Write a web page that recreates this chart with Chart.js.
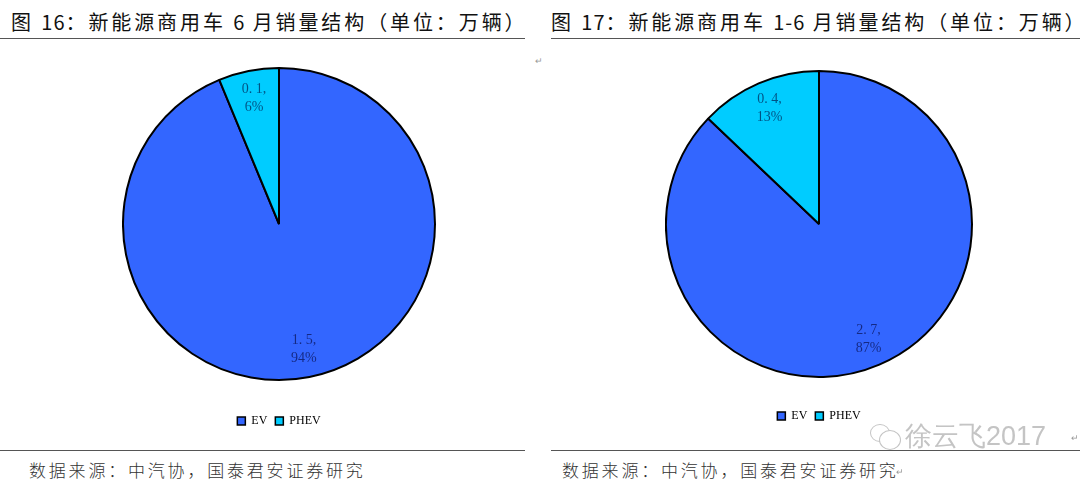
<!DOCTYPE html>
<html>
<head>
<meta charset="utf-8">
<script src="https://cdn.jsdelivr.net/npm/chart.js@4"></script>
<style>
  html, body { margin: 0; padding: 0; background: #fff; }
  #page { position: relative; width: 1080px; height: 484px; overflow: hidden; }
  .title { position: absolute; top: 8px; font: 20px/28px "Noto Sans CJK SC"; letter-spacing: 2.9px; color: #111; white-space: pre; }
  .title span { letter-spacing: 1px; }
  .rule { position: absolute; height: 1px; background: #555; }
  .source { position: absolute; top: 458px; font: 17px/24px "Noto Sans CJK SC"; font-weight: 300; letter-spacing: 2.8px; color: #333; white-space: pre; }
  .chart { position: absolute; top: 38px; height: 406px; }
  #mark { position: absolute; left: 905px; top: 419px; font: 27px/34px "Liberation Sans"; color: #c4c4c4; }
  .bubble { position: absolute; border: 1px solid #c4c4c4; border-radius: 50%; background: #fff; }
  .enter { position: absolute; font: 9px/10px "Liberation Sans"; color: #999; }
</style>
</head>
<body>
<div id="page">
  <div class="title" style="left:11px">图 <span>16</span>：新能源商用车 <span>6</span> 月销量结构（单位：万辆）</div>
  <div class="title" style="left:551px">图 <span>17</span>：新能源商用车 <span>1-6</span> 月销量结构（单位：万辆）</div>
  <div class="rule" style="left:0;top:38px;width:525px"></div>
  <div class="rule" style="left:551px;top:38px;width:529px"></div>
  <div class="rule" style="left:0;top:450px;width:525px"></div>
  <div class="rule" style="left:551px;top:450px;width:529px"></div>
  <div class="chart" style="left:122px;width:314px"><canvas id="pie16"></canvas></div>
  <div class="chart" style="left:665px;width:308px"><canvas id="pie17"></canvas></div>
  <div class="source" id="source16" style="left:29px"></div>
  <div class="source" id="source17" style="left:562px"></div>
  <div class="bubble" style="left:870px;top:424px;width:18px;height:16px"></div>
  <div class="bubble" style="left:879px;top:430px;width:20px;height:18px"></div>
  <div id="mark">徐云飞2017</div>
  <div class="enter" style="left:535px;top:56px">↵</div>
  <div class="enter" style="left:1071px;top:433px">↵</div>
  <div class="enter" style="left:896px;top:467px">↵</div>
</div>
<script>
const categories = ['EV', 'PHEV'];
const june = [1.5, 0.1];
const janToJune = [2.7, 0.4];
const colors = ['#3366ff', '#00ccff'];
const sourceText = '数据来源：中汽协，国泰君安证券研究';

document.getElementById('source16').textContent = sourceText;
document.getElementById('source17').textContent = sourceText;

// labels like the original: value, then percent on second line
const pieLabels = {
  id: 'pieLabels',
  afterDatasetsDraw(chart) {
    const ctx = chart.ctx;
    const values = chart.data.datasets[0].data;
    const total = values.reduce((a, b) => a + b, 0);
    chart.getDatasetMeta(0).data.forEach((arc, i) => {
      const mid = (arc.startAngle + arc.endAngle) / 2;
      const r = arc.outerRadius * 0.82;
      const x = arc.x + Math.cos(mid) * r;
      const y = arc.y + Math.sin(mid) * r;
      ctx.save();
      ctx.font = '14px "Liberation Serif"';
      ctx.fillStyle = 'rgba(0,0,50,0.6)';
      ctx.textAlign = 'center';
      ctx.textBaseline = 'middle';
      ctx.fillText(values[i].toFixed(1).replace('.', '. ') + ',', x, y - 9);
      ctx.fillText(Math.round(values[i] / total * 100) + '%', x, y + 9);
      ctx.restore();
    });
  }
};

function drawPie(id, values, pad) {
  new Chart(document.getElementById(id), {
    type: 'pie',
    data: {
      labels: categories,
      datasets: [{ data: values, backgroundColor: colors, borderColor: '#000', borderWidth: 2 }]
    },
    options: {
      responsive: true,
      maintainAspectRatio: false,
      animation: false,
      layout: { padding: pad },
      plugins: {
        tooltip: { enabled: false },
        legend: {
          position: 'bottom',
          labels: {
            boxWidth: 8,
            boxHeight: 8,
            padding: 8,
            color: '#222',
            font: { family: 'Liberation Serif', size: 12 },
            generateLabels(chart) {
              return categories.map((c, i) => ({
                text: c, fillStyle: colors[i], strokeStyle: '#000', lineWidth: 1.5, index: i
              }));
            }
          }
        }
      }
    },
    plugins: [pieLabels]
  });
}

drawPie('pie16', june, { top: 3, bottom: 7 });
drawPie('pie17', janToJune, { top: 8, bottom: 12 });
</script>
</body>
</html>
